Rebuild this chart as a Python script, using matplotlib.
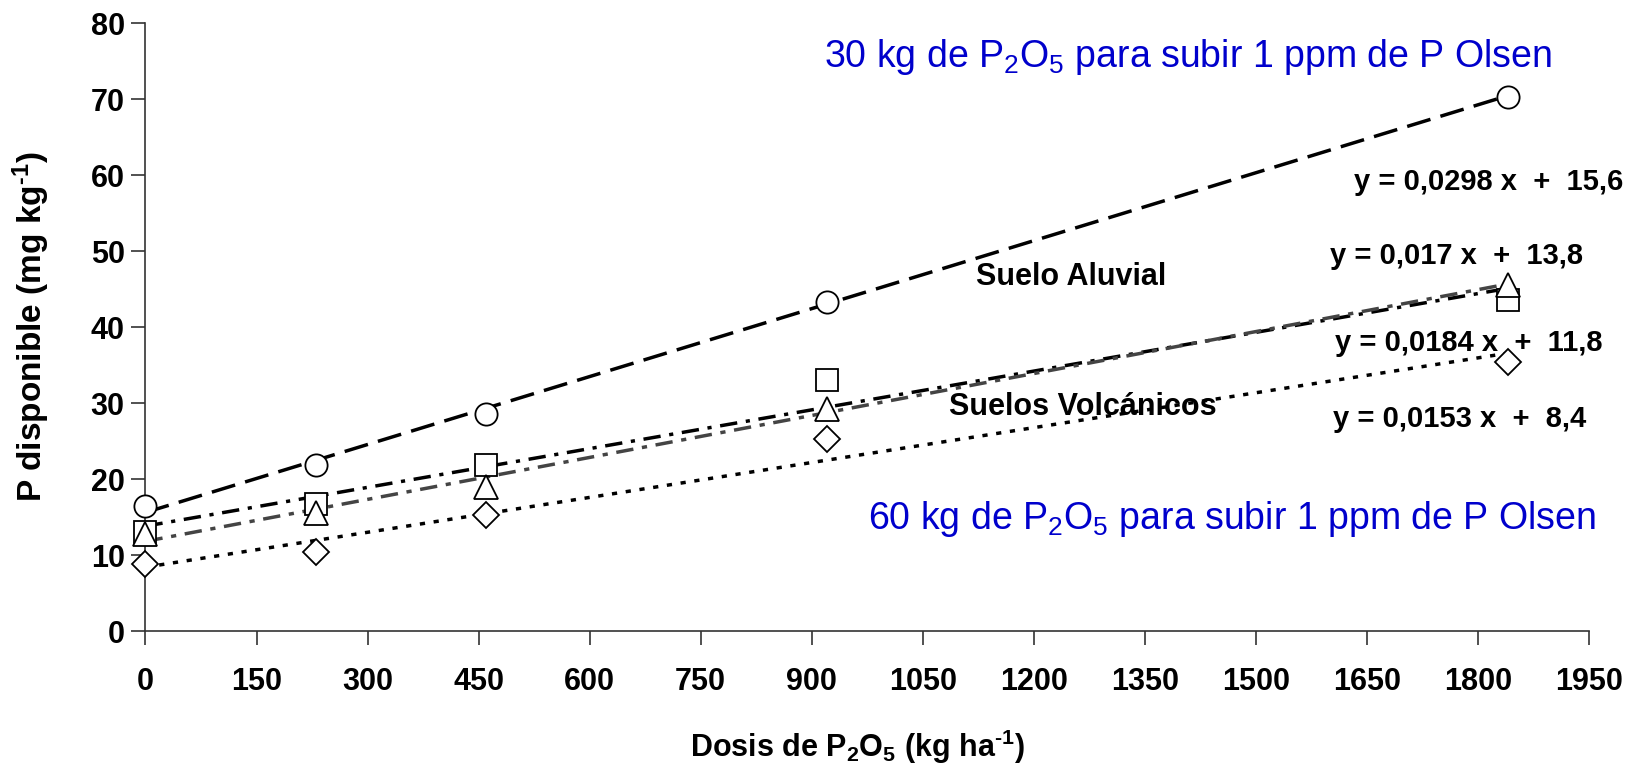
import matplotlib
matplotlib.use("Agg")
import matplotlib.pyplot as plt
import numpy as np

plt.rcParams['font.family'] = ['Liberation Sans', 'DejaVu Sans']
plt.rcParams['mathtext.default'] = 'regular'

# Data
dosis = [0, 230, 460, 920, 1840]
aluvial = [16.5, 21.8, 28.6, 43.3, 70.2]
volc_a = [13.0, 16.7, 21.8, 33.0, 43.5]
volc_b = [12.8, 15.5, 19.0, 29.2, 45.5]
volc_c = [8.8, 10.4, 15.2, 25.2, 35.4]

slopes = [0.0298, 0.017, 0.0184, 0.0153]
intercepts = [15.6, 13.8, 11.8, 8.4]
eq_labels = ['y = 0,0298 x  +  15,6', 'y = 0,017 x  +  13,8',
             'y = 0,0184 x  +  11,8', 'y = 0,0153 x  +  8,4']

xticks = list(range(0, 1951, 150))
yticks = list(range(0, 81, 10))

fig = plt.figure(figsize=(16.29, 7.67), dpi=100)
ax = fig.add_axes([0.0893, 0.1773, 0.8862, 0.7927])

series = [aluvial, volc_a, volc_b, volc_c]
markers = ['o', 's', '^', 'D']
msizes = [16, 16, 17, 13]
line_colors = ['black', 'black', '#444444', 'black']
dashes = [(7, 3), (5, 2.5, 1.2, 2.5), (5, 2.5, 1.5, 2.5), (1.5, 2.5)]

xl = np.array([dosis[0], dosis[-1]])
for s, b, c, d in zip(slopes, intercepts, line_colors, dashes):
    ax.plot(xl, s * xl + b, color=c, lw=2.5, dashes=d, zorder=2, clip_on=False)

for y, m, ms in zip(series, markers, msizes):
    ax.plot(dosis, y, linestyle='none', marker=m, markersize=ms,
            markerfacecolor='white', markeredgecolor='black',
            markeredgewidth=1.3, zorder=3, clip_on=False)

ax.set_xlim(0, 1950)
ax.set_ylim(0, 80)
ax.set_xticks(xticks)
ax.set_yticks(yticks)
ax.spines['top'].set_visible(False)
ax.spines['right'].set_visible(False)
for sp in ['left', 'bottom']:
    ax.spines[sp].set_linewidth(1.2)
    ax.spines[sp].set_color('#333333')
    ax.spines[sp].set_zorder(1)
ax.tick_params(axis='both', direction='out', length=10, width=1.2, color='#333333')
ax.tick_params(axis='x', labelsize=22, pad=16)
ax.tick_params(axis='y', labelsize=22, pad=5)
for lab in ax.get_xticklabels() + ax.get_yticklabels():
    lab.set_fontweight('bold')

ax.set_xlabel('Dosis de P$_2$O$_5$ (kg ha$^{\u20101}$)', fontsize=22,
              fontweight='bold')
ax.xaxis.set_label_coords(857 / 1629, 1 - 747 / 767, transform=fig.transFigure)
ax.xaxis.label.set_verticalalignment('center')
ax.set_ylabel('P disponible (mg kg$^{\u20101}$)', fontsize=24,
              fontweight='bold')
ax.yaxis.set_label_coords(31 / 1629, 1 - 327 / 767, transform=fig.transFigure)
ax.yaxis.label.set_verticalalignment('center')

blue = '#0000CC'
fig.text(1188 / 1629, 1 - 57 / 767, '30 kg de P$_2$O$_5$ para subir 1 ppm de P Olsen',
         color=blue, fontsize=27, ha='center', va='center')
fig.text(1232 / 1629, 1 - 519 / 767, '60 kg de P$_2$O$_5$ para subir 1 ppm de P Olsen',
         color=blue, fontsize=27, ha='center', va='center')
fig.text(1071 / 1629, 1 - 277 / 767, 'Suelo Aluvial', fontsize=22,
         fontweight='bold', ha='center', va='center')
fig.text(1083 / 1629, 1 - 407 / 767, 'Suelos Volcánicos', fontsize=22,
         fontweight='bold', ha='center', va='center')

eq_x = [1354, 1330, 1335, 1333]
eq_y = [182, 256, 343, 419]
for t, ex, ey in zip(eq_labels, eq_x, eq_y):
    fig.text(ex / 1629, 1 - ey / 767, t, fontsize=21, fontweight='bold',
             ha='left', va='center')

fig.savefig('out.png', dpi=100)
